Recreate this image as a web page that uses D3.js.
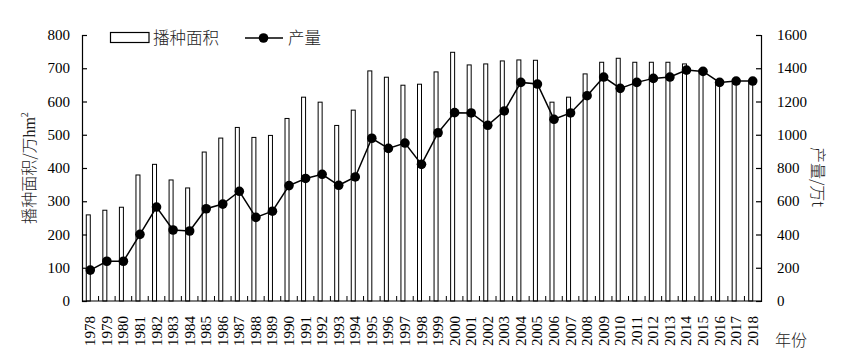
<!DOCTYPE html>
<html><head><meta charset="utf-8">
<script src="https://cdn.jsdelivr.net/npm/d3@7/dist/d3.min.js"></script>
<style>body{margin:0;background:#fff}svg{display:block}</style>
</head><body>
<svg id="c" width="844" height="357"></svg>
<script>
const years = d3.range(1978, 2019).map(String);
const area = [259,273,282,379,411,364,340,448,490,522,492,498,549,613,598,528,574,692,673,649,652,689,748,710,713,722,725,724,598,613,683,718,730,718,718,718,713,695,655,655,660];
const output = [186,239,239,401,565,427,421,555,583,660,503,540,694,737,762,696,746,979,918,950,822,1012,1133,1131,1057,1143,1315,1305,1093,1131,1235,1347,1279,1315,1339,1347,1389,1381,1315,1323,1323];
const leftTicks = [0,100,200,300,400,500,600,700,800];
const rightTicks = [0,200,400,600,800,1000,1200,1400,1600];

const serif = "'Liberation Serif','Times New Roman',serif";
const cjk = "'Noto Sans CJK SC','Liberation Serif',serif";
const svg = d3.select('#c');
const L = 82, R = 761, T = 35, B = 301;
const x = d3.scaleBand().domain(years).range([L, R]).padding(0);
const yL = d3.scaleLinear().domain([0, 800]).range([B, T]);
const yR = d3.scaleLinear().domain([0, 1600]).range([B, T]);
const cx = d => x(d) + x.bandwidth() / 2;

// bars
svg.append('g').selectAll('rect').data(years).join('rect')
  .attr('x', (d) => cx(d) - 4)
  .attr('width', 4)
  .attr('y', (d, i) => yL(area[i]))
  .attr('height', (d, i) => B - yL(area[i]))
  .attr('fill', '#fff').attr('stroke', '#000').attr('stroke-width', 1);

// axes
const gL = svg.append('g').attr('transform', `translate(${L},0)`)
  .call(d3.axisRight(yL).tickValues(leftTicks).tickSize(5).tickFormat(''));
const gR = svg.append('g').attr('transform', `translate(${R},0)`)
  .call(d3.axisLeft(yR).tickValues(rightTicks).tickSize(5).tickFormat(''));
[gL, gR].forEach(g => { g.select('.domain').attr('stroke', '#000').attr('stroke-width', 1.2); g.selectAll('line').attr('stroke', '#000').attr('stroke-width', 1.2); });

svg.append('g').selectAll('text').data(leftTicks).join('text')
  .attr('x', 70).attr('y', d => yL(d) + 5).attr('text-anchor', 'end')
  .style('font-family', serif).style('font-size', '15px').text(d => d);
svg.append('g').selectAll('text').data(rightTicks).join('text')
  .attr('x', 777).attr('y', d => yR(d) + 5).attr('text-anchor', 'start')
  .style('font-family', serif).style('font-size', '15px').text(d => d);

// x axis
svg.append('line').attr('x1', L).attr('x2', R).attr('y1', B).attr('y2', B).attr('stroke', '#000').attr('stroke-width', 1.2);
svg.append('g').selectAll('line').data(years.slice(1)).join('line')
  .attr('x1', d => x(d)).attr('x2', d => x(d)).attr('y1', B).attr('y2', B - 5)
  .attr('stroke', '#000').attr('stroke-width', 1);
svg.append('g').selectAll('text').data(years).join('text')
  .attr('transform', d => `translate(${cx(d) + 5},316) rotate(-90)`)
  .attr('text-anchor', 'end')
  .style('font-family', serif).style('font-size', '15px').text(d => d);

// line
const line = d3.line().x((d, i) => cx(years[i])).y(d => yR(d));
svg.append('path').datum(output).attr('d', line).attr('fill', 'none').attr('stroke', '#000').attr('stroke-width', 1.5);
svg.append('g').selectAll('circle').data(output).join('circle')
  .attr('cx', (d, i) => cx(years[i])).attr('cy', d => yR(d)).attr('r', 4.8).attr('fill', '#000');

// axis titles
const lt = svg.append('text').attr('transform', 'translate(35,168) rotate(-90)').attr('text-anchor', 'middle')
  .style('font-family', cjk).style('font-size', '16px').style('font-weight', 300).attr('fill', '#222');
lt.append('tspan').text('播种面积/万');
lt.append('tspan').style('font-family', serif).text('hm');
lt.append('tspan').style('font-family', serif).style('font-size', '10px').attr('dy', -7).text('2');
svg.append('text').attr('transform', 'translate(812,177) rotate(90)').attr('text-anchor', 'middle')
  .style('font-family', cjk).style('font-size', '16px').style('font-weight', 300).attr('fill', '#222')
  .text('产量/万t');
svg.append('text').attr('x', 775).attr('y', 346).style('font-family', cjk).style('font-size', '16px').style('font-weight', 300).attr('fill', '#222').text('年份');

// legend
svg.append('rect').attr('x', 110.5).attr('y', 32.5).attr('width', 38.5).attr('height', 10).attr('fill', '#fff').attr('stroke', '#000').attr('stroke-width', 1.2);
svg.append('text').attr('x', 153).attr('y', 44).style('font-family', cjk).style('font-size', '16.5px').style('font-weight', 300).attr('fill', '#222').text('播种面积');
svg.append('line').attr('x1', 245).attr('x2', 283).attr('y1', 38).attr('y2', 38).attr('stroke', '#000').attr('stroke-width', 1.5);
svg.append('circle').attr('cx', 263.5).attr('cy', 38).attr('r', 4.8).attr('fill', '#000');
svg.append('text').attr('x', 288).attr('y', 44).style('font-family', cjk).style('font-size', '16.5px').style('font-weight', 300).attr('fill', '#222').text('产量');
</script>
</body></html>
